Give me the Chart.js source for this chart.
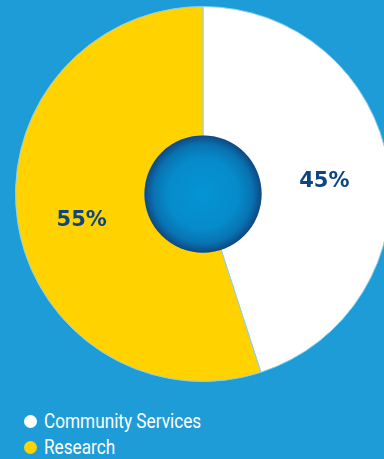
<!DOCTYPE html>
<html>
<head>
<meta charset="utf-8">
<script src="https://cdn.jsdelivr.net/npm/chart.js@4/dist/chart.umd.min.js"></script>
<style>
    html, body { margin: 0; padding: 0; width: 384px; height: 459px; overflow: hidden; background: #1e9cd8; }
    #wrap { position: absolute; left: 0; top: 0; width: 406px; height: 390px; }
    #legend { position: absolute; left: 24px; top: 408px; font-family: "Roboto", sans-serif; font-size: 20px; color: #ffffff; line-height: 26px; }
    #legend div { display: flex; align-items: center; }
    #legend span.dot { display: inline-block; width: 13px; height: 13px; border-radius: 50%; margin-right: 7px; }
    #legend span.txt { display: inline-block; transform: scaleX(0.86); transform-origin: left center; white-space: nowrap; }
</style>
</head>
<body>
<div id="wrap"><canvas id="pie"></canvas></div>
<div id="legend"></div>
<script>
// Data
const categories = ['Community Services', 'Research'];
const shares = [45, 55];
const colors = ['#ffffff', '#ffd200'];

// Legend
categories.forEach((name, i) =>
{
    const row = document.createElement('div');
    row.innerHTML = '<span class="dot" style="background:' + colors[i] + '"></span><span class="txt">' + name + '</span>';
    document.getElementById('legend').appendChild(row);
});

// Center disc with shading
const centerDisc = {
    id: 'centerDisc',
    afterDatasetsDraw(chart)
    {
        const arc = chart.getDatasetMeta(0).data[0];
        const ctx = chart.ctx;
        const r = arc.innerRadius;
        const g = ctx.createRadialGradient(arc.x, arc.y, 0, arc.x, arc.y, r);
        g.addColorStop(0, '#0494d4');
        g.addColorStop(0.6, '#068bcb');
        g.addColorStop(0.85, '#0873b1');
        g.addColorStop(1, '#0e4a84');
        ctx.save();
        ctx.beginPath();
        ctx.arc(arc.x, arc.y, r + 0.5, 0, Math.PI * 2);
        ctx.fillStyle = g;
        ctx.fill();
        ctx.restore();
    }
};

// Percentage labels
const sliceLabels = {
    id: 'sliceLabels',
    afterDatasetsDraw(chart)
    {
        const ctx = chart.ctx;
        ctx.save();
        ctx.font = 'bold 21px "DejaVu Sans"';
        ctx.fillStyle = '#0d4582';
        ctx.textAlign = 'center';
        ctx.textBaseline = 'middle';
        chart.getDatasetMeta(0).data.forEach((arc, i) =>
        {
            const mid = (arc.startAngle + arc.endAngle) / 2;
            const rr = (arc.innerRadius + arc.outerRadius) / 2;
            ctx.fillText(shares[i] + '%', arc.x + Math.cos(mid) * rr, arc.y + Math.sin(mid) * rr + 7);
        });
        ctx.restore();
    }
};

new Chart(document.getElementById('pie'),
{
    type: 'doughnut'
    ,data: {
        labels: categories
        ,datasets: [
            {
                data: shares
                ,backgroundColor: colors
                ,borderColor: '#8fd0ea'
                ,borderWidth: 1
                ,hoverOffset: 0
            }
        ]
    }
    ,options: {
        responsive: true
        ,maintainAspectRatio: false
        ,animation: false
        ,cutout: '31%'
        ,layout: { padding: { top: 6, bottom: 8 } }
        ,plugins: {
            legend: { display: false }
            ,tooltip: { enabled: false }
        }
    }
    ,plugins: [centerDisc, sliceLabels]
});
</script>
</body>
</html>
